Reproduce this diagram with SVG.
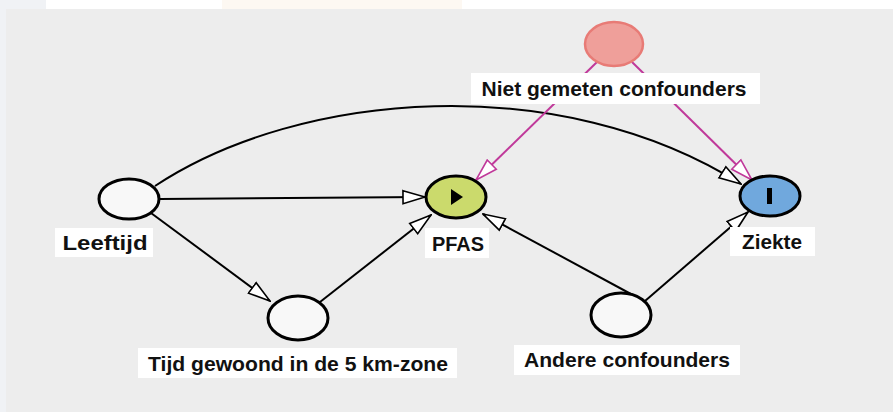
<svg xmlns="http://www.w3.org/2000/svg" width="893" height="412" viewBox="0 0 893 412">
  <style>
    .node { stroke: #000; stroke-width: 3; }
    .plain { fill: #f8f8f8; }
    .lbl-box { fill: #fff; }
    .lbl { font-family: "Liberation Sans", Arial, sans-serif; font-weight: bold; font-size: 21px; fill: #111; text-anchor: middle; }
    .edge { fill: none; stroke: #000; stroke-width: 2; }
    .edge-u { fill: none; stroke: #c0399a; stroke-width: 2; }
  </style>
  <defs>
    <marker id="arr" viewBox="0 0 24 16" refX="23" refY="8" markerWidth="24" markerHeight="16" markerUnits="userSpaceOnUse" orient="auto">
      <path d="M1,1.5 L23,8 L1,14.5 Z" fill="#fff" stroke="#000" stroke-width="1.6"/>
    </marker>
    <marker id="arr-u" viewBox="0 0 24 16" refX="23" refY="8" markerWidth="24" markerHeight="16" markerUnits="userSpaceOnUse" orient="auto">
      <path d="M1,1.5 L23,8 L1,14.5 Z" fill="#fff" stroke="#c0399a" stroke-width="1.6"/>
    </marker>
  </defs>

  <!-- page backdrop -->
  <rect x="0" y="0" width="893" height="412" fill="#fff"/>
  <rect x="0" y="0" width="46" height="412" fill="#f0f2f5"/>
  <rect x="222" y="0" width="240" height="12" fill="#fdf8f2"/>
  <rect x="6" y="9" width="887" height="403" fill="#ededed"/>

  <!-- connectors -->
  <g id="connectors">
    <line class="edge" x1="160" y1="199" x2="425" y2="197" marker-end="url(#arr)"/>
    <path class="edge" d="M155,186 C300,90 560,70 741,184" marker-end="url(#arr)"/>
    <line class="edge" x1="151" y1="213" x2="270" y2="301" marker-end="url(#arr)"/>
    <line class="edge" x1="320" y1="302" x2="431" y2="215" marker-end="url(#arr)"/>
    <line class="edge" x1="642" y1="300" x2="483" y2="214" marker-end="url(#arr)"/>
    <line class="edge" x1="645" y1="301" x2="748" y2="212" marker-end="url(#arr)"/>
    <line class="edge-u" x1="597" y1="62" x2="476" y2="180" marker-end="url(#arr-u)"/>
    <line class="edge-u" x1="632" y1="62" x2="752" y2="180" marker-end="url(#arr-u)"/>
  </g>

  <!-- unmeasured confounders -->
  <g id="node-niet-gemeten">
    <ellipse cx="614" cy="44" rx="29" ry="22" fill="#ef9f9a" stroke="#e87b76" stroke-width="2.5"/>
    <rect class="lbl-box" x="471" y="73" width="289" height="31"/>
    <text class="lbl" x="614" y="96" textLength="265" lengthAdjust="spacingAndGlyphs">Niet gemeten confounders</text>
  </g>

  <!-- age -->
  <g id="node-leeftijd">
    <ellipse class="node plain" cx="129" cy="199" rx="30" ry="20"/>
    <rect class="lbl-box" x="55" y="228" width="98" height="29"/>
    <text class="lbl" x="105" y="250" textLength="85" lengthAdjust="spacingAndGlyphs">Leeftijd</text>
  </g>

  <!-- exposure -->
  <g id="node-pfas">
    <ellipse class="node" cx="456" cy="197" rx="30" ry="21" fill="#cbda6c"/>
    <path d="M451,189 L463,197 L451,205 Z" fill="#000"/>
    <rect class="lbl-box" x="425" y="228" width="64" height="30"/>
    <text class="lbl" x="458" y="251" textLength="52" lengthAdjust="spacingAndGlyphs">PFAS</text>
  </g>

  <!-- outcome -->
  <g id="node-ziekte">
    <ellipse class="node" cx="770" cy="196" rx="30" ry="20" fill="#70a8dd"/>
    <rect x="767" y="188" width="5" height="16" fill="#000"/>
    <rect class="lbl-box" x="730" y="227" width="85" height="29"/>
    <text class="lbl" x="772" y="249" textLength="60" lengthAdjust="spacingAndGlyphs">Ziekte</text>
  </g>

  <!-- time lived in zone -->
  <g id="node-tijd">
    <ellipse class="node plain" cx="298" cy="318" rx="30" ry="22"/>
    <rect class="lbl-box" x="138" y="348" width="319" height="30"/>
    <text class="lbl" x="298" y="371" textLength="300" lengthAdjust="spacingAndGlyphs">Tijd gewoond in de 5 km-zone</text>
  </g>

  <!-- other confounders -->
  <g id="node-andere">
    <ellipse class="node plain" cx="621" cy="315" rx="30" ry="22"/>
    <rect class="lbl-box" x="514" y="345" width="226" height="30"/>
    <text class="lbl" x="627" y="367" textLength="206" lengthAdjust="spacingAndGlyphs">Andere confounders</text>
  </g>
</svg>
